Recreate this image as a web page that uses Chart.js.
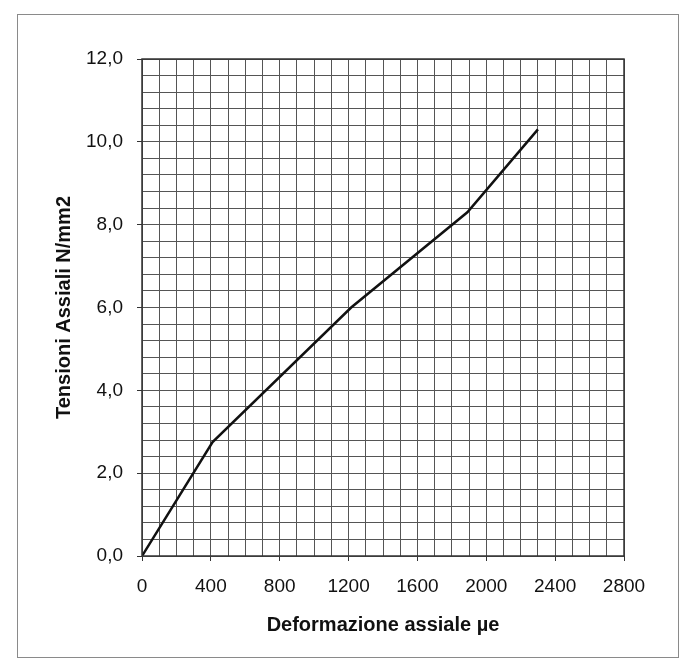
<!DOCTYPE html>
<html>
<head>
<meta charset="utf-8">
<script src="https://cdn.jsdelivr.net/npm/chart.js@4.4.0/dist/chart.umd.min.js"></script>
<style>
  html, body { margin: 0; padding: 0; background: #ffffff; }
  #wrap { position: relative; width: 685px; height: 672px; }
</style>
</head>
<body>
<div id="wrap"><canvas id="c" width="685" height="672"></canvas></div>
<script>
// Data
const strainValues = [0, 410, 1215, 1890, 2300];        // deformazione assiale (µe)
const stressValues = [0.0, 2.75, 6.0, 8.3, 10.3];       // tensioni assiali (N/mm2)
const xTickLabels = ['0', '400', '800', '1200', '1600', '2000', '2400', '2800'];
const yTickLabels = ['0,0', '2,0', '4,0', '6,0', '8,0', '10,0', '12,0'];
const xTitle = 'Deformazione assiale \u00b5e';
const yTitle = 'Tensioni Assiali N/mm2';

const points = strainValues.map((x, i) => ({ x: x, y: stressValues[i] }));

const framePlugin = {
  id: 'frame',
  beforeDraw(chart) {
    const ctx = chart.ctx;
    ctx.save();
    ctx.fillStyle = '#ffffff';
    ctx.fillRect(0, 0, chart.width, chart.height);
    ctx.strokeStyle = '#8a8a8a';
    ctx.lineWidth = 1;
    ctx.strokeRect(17.5, 14.5, 661, 643);
    ctx.restore();
  },
  afterDatasetsDraw(chart) {
    const a = chart.chartArea;
    const ctx = chart.ctx;
    ctx.save();
    ctx.strokeStyle = '#333333';
    ctx.lineWidth = 1.5;
    ctx.strokeRect(a.left, a.top, a.right - a.left, a.bottom - a.top);
    ctx.restore();
  }
};

new Chart(document.getElementById('c'), {
  type: 'scatter',
  data: {
    datasets: [{
      data: points,
      showLine: true,
      borderColor: '#111111',
      borderWidth: 2.5,
      pointRadius: 0,
      tension: 0,
      fill: false
    }]
  },
  options: {
    responsive: false,
    animation: false,
    events: [],
    layout: { padding: { left: 0, top: 59, right: 61, bottom: 0 } },
    plugins: { legend: { display: false }, tooltip: { enabled: false } },
    scales: {
      x: {
        type: 'linear',
        min: 0, max: 2800,
        afterFit(s) { s.height = 116; },
        ticks: {
          stepSize: 100,
          autoSkip: false,
          maxRotation: 0,
          color: '#111111',
          font: { family: 'Liberation Sans', size: 19 },
          padding: 14,
          callback(v) {
            if (v % 400 !== 0) return '';
            const i = v / 400;
            return xTickLabels[i];
          }
        },
        grid: {
          color: '#555555',
          lineWidth: 1,
          drawTicks: true,
          tickLength: 5,
          tickColor(ctx) { return (ctx.tick && ctx.tick.value % 400 === 0) ? '#333333' : 'rgba(0,0,0,0)'; }
        },
        border: { display: false },
        title: {
          display: true,
          text: xTitle,
          color: '#111111',
          font: { family: 'Liberation Sans', size: 20, weight: 'bold' },
          padding: { top: 0, bottom: 35 }
        }
      },
      y: {
        type: 'linear',
        min: 0, max: 12,
        afterFit(s) { s.width = 142; },
        ticks: {
          stepSize: 0.4,
          autoSkip: false,
          color: '#111111',
          font: { family: 'Liberation Sans', size: 19 },
          padding: 14,
          callback(v) {
            const r = Math.round(v * 10) / 10;
            if (Math.abs(r / 2 - Math.round(r / 2)) > 1e-6) return '';
            return yTickLabels[Math.round(r / 2)];
          }
        },
        grid: {
          color: '#555555',
          lineWidth: 1,
          drawTicks: true,
          tickLength: 5,
          tickColor(ctx) {
            if (!ctx.tick) return 'rgba(0,0,0,0)';
            const r = Math.round(ctx.tick.value * 10) / 10;
            return Math.abs(r / 2 - Math.round(r / 2)) < 1e-6 ? '#333333' : 'rgba(0,0,0,0)';
          }
        },
        border: { display: false },
        title: {
          display: true,
          text: yTitle,
          color: '#111111',
          font: { family: 'Liberation Sans', size: 20, weight: 'bold' },
          padding: { top: 52, bottom: 0 }
        }
      }
    }
  },
  plugins: [framePlugin]
});
</script>
</body>
</html>
